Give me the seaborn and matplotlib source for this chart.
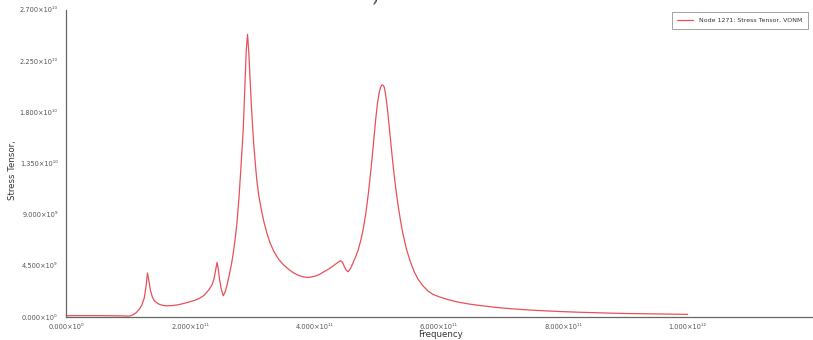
import numpy as np
import pandas as pd
import matplotlib
matplotlib.use("Agg")
import matplotlib.pyplot as plt
import seaborn as sns

# Frequency sweep (units of 1e11) and von Mises stress response (units of 1e9)
freq_e11 = [0.0, 0.5, 0.9, 1.0, 1.03, 1.08, 1.13, 1.18, 1.22, 1.26, 1.29, 1.31,
            1.33, 1.36, 1.39, 1.42, 1.46, 1.50, 1.55, 1.62, 1.70, 1.80, 1.90,
            2.00, 2.07, 2.14, 2.22, 2.30, 2.35, 2.38, 2.41, 2.43, 2.45, 2.47,
            2.50, 2.53, 2.56, 2.59, 2.62, 2.66, 2.69, 2.72, 2.75, 2.78, 2.81,
            2.85, 2.88, 2.90, 2.92, 2.94, 2.96, 2.98, 3.00, 3.02, 3.05, 3.07,
            3.10, 3.14, 3.18, 3.23, 3.28, 3.34, 3.42, 3.50, 3.58, 3.66, 3.74,
            3.82, 3.90, 4.00, 4.07, 4.14, 4.22, 4.30, 4.36, 4.40, 4.42, 4.45,
            4.48, 4.51, 4.54, 4.58, 4.62, 4.66, 4.70, 4.74, 4.78, 4.82, 4.86,
            4.90, 4.94, 4.98, 5.01, 5.04, 5.06, 5.08, 5.10, 5.12, 5.14, 5.16,
            5.18, 5.22, 5.26, 5.30, 5.34, 5.38, 5.42, 5.48, 5.54, 5.60, 5.66,
            5.74, 5.82, 5.90, 6.00, 6.15, 6.30, 6.45, 6.60, 6.80, 7.00, 7.25,
            7.50, 7.75, 8.00, 8.25, 8.50, 8.75, 9.00, 9.25, 9.50, 9.75, 10.0]
stress_e9 = [0.12, 0.12, 0.10, 0.08, 0.10, 0.20, 0.38, 0.70, 1.05, 1.70, 2.80, 3.87,
             3.30, 2.30, 1.75, 1.45, 1.25, 1.12, 1.03, 0.98, 1.00, 1.07, 1.20,
             1.35, 1.47, 1.62, 1.90, 2.40, 2.85, 3.35, 4.20, 4.80, 4.20, 3.30,
             2.40, 1.87, 2.20, 2.80, 3.55, 4.60, 5.60, 6.80, 8.30, 10.3, 12.8,
             16.4, 20.8, 23.5, 24.85, 23.3, 21.0, 18.8, 16.9, 15.2, 13.2, 12.0,
             10.7, 9.50, 8.45, 7.40, 6.55, 5.80, 5.08, 4.58, 4.20, 3.88, 3.66,
             3.52, 3.48, 3.58, 3.72, 3.95, 4.20, 4.50, 4.75, 4.90, 4.95, 4.80,
             4.40, 4.10, 3.98, 4.30, 4.80, 5.30, 5.90, 6.70, 7.70, 9.00, 10.7,
             12.7, 14.9, 17.3, 18.8, 19.8, 20.2, 20.4, 20.4, 20.2, 19.6, 18.8,
             17.8, 15.6, 13.4, 11.5, 9.90, 8.50, 7.30, 5.90, 4.85, 4.00, 3.35,
             2.75, 2.30, 2.00, 1.78, 1.52, 1.32, 1.17, 1.05, 0.92, 0.80, 0.69,
             0.60, 0.53, 0.47, 0.42, 0.38, 0.34, 0.31, 0.29, 0.27, 0.25, 0.23]

x_ticks_e11 = [0, 2, 4, 6, 8, 10]
x_tick_labels = ["0.000×10⁰", "2.000×10¹¹", "4.000×10¹¹",
                 "6.000×10¹¹", "8.000×10¹¹", "1.000×10¹²"]
y_ticks_e9 = [0, 4.5, 9.0, 13.5, 18.0, 22.5, 27.0]
y_tick_labels = ["0.000×10⁰", "4.500×10⁹", "9.000×10⁹", "1.350×10¹⁰",
                 "1.800×10¹⁰", "2.250×10¹⁰", "2.700×10¹⁰"]

series_name = "Node 1271: Stress Tensor, VONM"

df = pd.DataFrame({
    "Frequency": np.array(freq_e11) * 1e11,
    "Stress": np.array(stress_e9) * 1e9,
    "series": series_name,
})

sns.set_style("white")
plt.rcParams["font.family"] = ["DejaVu Sans"]

fig = plt.figure(figsize=(8.13, 3.40), dpi=100)
ax = fig.add_axes([66 / 813, 1 - 317 / 340, (812 - 66) / 813, (317 - 10) / 340])

line_color = "#e8505a"
sns.lineplot(data=df, x="Frequency", y="Stress", hue="series",
             palette=[line_color], linewidth=0.9, ax=ax, legend=True)

ax.set_xlim(0, 1.2e12)
ax.set_ylim(0, 2.7e10)
ax.set_xticks(np.array(x_ticks_e11) * 1e11)
ax.set_xticklabels(x_tick_labels)
ax.set_yticks(np.array(y_ticks_e9) * 1e9)
ax.set_yticklabels(y_tick_labels)

tick_grey = "#555555"
ax.tick_params(axis="both", direction="out", length=4, width=0.8,
               colors="#666666", labelsize=4.8, labelcolor=tick_grey)
ax.tick_params(axis="x", pad=1)
ax.tick_params(axis="y", pad=2)

for side in ("top", "right"):
    ax.spines[side].set_visible(False)
for side in ("left", "bottom"):
    ax.spines[side].set_color("#666666")
    ax.spines[side].set_linewidth(0.9)

# axis titles placed in figure coordinates so they stay inside the canvas
ax.set_xlabel("")
ax.set_ylabel("")
fig.text(440 / 813, 1 - 334.5 / 340, "Frequency", fontsize=6.2, color="#333333",
         ha="center", va="center")
fig.text(12 / 813, 1 - 170 / 340, "Stress Tensor,", fontsize=6.2,
         color="#333333", ha="center", va="center", rotation=90)

leg = ax.legend(loc="upper right", bbox_to_anchor=(808 / 813, 1 - 12 / 340),
                bbox_transform=fig.transFigure, fontsize=4.5, frameon=True,
                fancybox=False, handlelength=2.6, borderpad=0.9,
                handletextpad=0.9, borderaxespad=0)
leg.get_frame().set_edgecolor("#777777")
leg.get_frame().set_linewidth(0.6)
for t in leg.get_texts():
    t.set_color("#333333")

# closing bracket of the page heading, cut by the top edge
fig.text(376 / 813, 1 + 1 / 340, ")", fontsize=10, ha="center", va="center",
         color="#222222", rotation=-10)

fig.savefig("out.png", dpi=100)
